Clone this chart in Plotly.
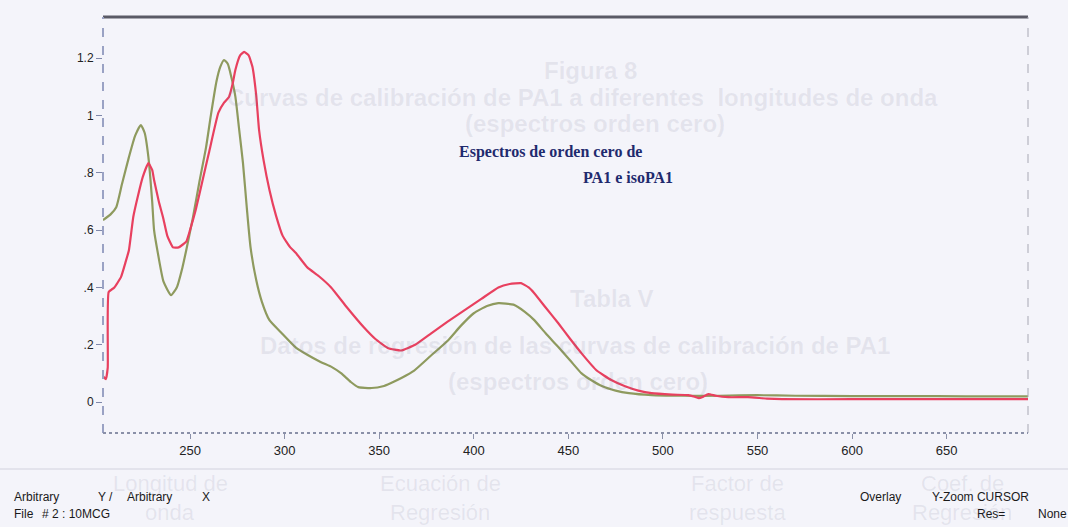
import plotly.graph_objects as go

# Zero-order absorption spectra (wavelength in nm, absorbance in arbitrary units)
wl_pa1 = [204, 205.5, 206.5, 207, 210, 213.5, 216, 217.7, 220, 222.5, 225, 228, 230, 231,
          233.5, 235.7, 238, 241, 244, 248, 250, 253, 256.5, 260, 265, 268, 270.6, 272.5,
          274, 276.5, 278.6, 281, 283, 285, 286.5, 289, 292, 295.5, 299, 303, 306, 312,
          318, 324.6, 333, 342, 348, 354.8, 361.6, 369, 377.5, 386, 395, 404, 413, 419,
          425, 429, 432, 438, 444.7, 451, 457, 465, 472.7, 480, 487, 494, 505, 513.5,
          517, 519, 521, 524, 528, 534.6, 545, 555, 563, 600, 650, 693]
abs_pa1 = [0.09, 0.08, 0.12, 0.384, 0.40, 0.436, 0.49, 0.53, 0.646, 0.72, 0.785, 0.834, 0.81,
           0.775, 0.70, 0.646, 0.58, 0.54, 0.54, 0.56, 0.60, 0.67, 0.77, 0.87, 1.01, 1.045,
           1.065, 1.11, 1.16, 1.21, 1.222, 1.21, 1.17, 1.07, 0.95, 0.84, 0.74, 0.65, 0.58,
           0.54, 0.52, 0.47, 0.44, 0.40, 0.33, 0.26, 0.22, 0.188, 0.18, 0.20, 0.24, 0.28,
           0.32, 0.36, 0.40, 0.412, 0.415, 0.40, 0.38, 0.33, 0.275, 0.22, 0.17, 0.11, 0.077,
           0.055, 0.04, 0.031, 0.026, 0.024, 0.018, 0.014, 0.018, 0.028, 0.022, 0.017,
           0.017, 0.012, 0.01, 0.01, 0.01, 0.01]

wl_iso = [204, 208, 211, 214, 217.7, 221, 224, 226, 228, 230, 231, 233, 236, 240, 243, 246,
          248, 251.6, 255, 258.5, 261, 264, 266, 268, 270, 272, 274, 276, 278, 280, 282,
          285, 288, 292, 298, 306, 312, 319, 325, 330, 335, 339, 346, 352, 356, 362, 368.5,
          377, 386.5, 393, 400, 407, 413, 421, 427, 432, 438, 444.7, 451, 457, 462, 468,
          475, 482, 494, 510, 530, 550, 570, 600, 630, 660, 693]
abs_iso = [0.635, 0.655, 0.68, 0.76, 0.855, 0.93, 0.967, 0.94, 0.855, 0.70, 0.60, 0.52, 0.42,
           0.373, 0.40, 0.47, 0.53, 0.646, 0.77, 0.89, 1.00, 1.12, 1.17, 1.194, 1.18, 1.13,
           1.065, 0.95, 0.834, 0.68, 0.54, 0.426, 0.35, 0.286, 0.244, 0.19, 0.165, 0.14,
           0.122, 0.10, 0.07, 0.052, 0.049, 0.055, 0.066, 0.085, 0.11, 0.16, 0.216, 0.265,
           0.31, 0.335, 0.345, 0.34, 0.315, 0.286, 0.24, 0.192, 0.145, 0.10, 0.077, 0.055,
           0.04, 0.031, 0.024, 0.022, 0.022, 0.024, 0.022, 0.021, 0.021, 0.02, 0.02]

x_ticks = [250, 300, 350, 400, 450, 500, 550, 600, 650]
y_ticks = [0, 0.2, 0.4, 0.6, 0.8, 1.0, 1.2]
y_tick_text = ["0", ".2", ".4", ".6", ".8", "1", "1.2"]

W, H = 1068, 527
L, R, T, B = 103, 40, 17, 94
PW, PH = W - L - R, H - T - B


def px(x):
    return (x - L) / PW


def py(y):
    return (H - B - y) / PH


PAPER = "#f4f4fa"
fig = go.Figure()

fig.add_trace(go.Scatter(x=wl_iso, y=abs_iso, mode="lines",
                         line=dict(color="#8e9a5e", width=2.2, shape="spline", smoothing=0.5),
                         name="isoPA1", showlegend=False))
fig.add_trace(go.Scatter(x=wl_pa1, y=abs_pa1, mode="lines",
                         line=dict(color="#e8405f", width=2.2, shape="spline", smoothing=0.4),
                         name="PA1", showlegend=False))

axis_font = dict(family="Liberation Sans Narrow, Arial Narrow, Liberation Sans, Arial",
                 size=13, color="#222222")

fig.update_layout(
    width=W, height=H,
    margin=dict(l=L, r=R, t=T, b=B),
    paper_bgcolor=PAPER, plot_bgcolor=PAPER,
    xaxis=dict(range=[204, 693], tickvals=x_ticks, ticks="outside", ticklen=5,
               tickcolor="#8a90a8", showgrid=False, zeroline=False, showline=False,
               tickfont=axis_font),
    yaxis=dict(range=[-0.108, 1.344], tickvals=y_ticks, ticktext=y_tick_text,
               ticks="outside", ticklen=6, tickcolor="#7f88aa", showgrid=False,
               zeroline=False, showline=False, tickfont=dict(axis_font, size=12)),
)

# Frame: heavy top rule, dashed left/right edges, dotted baseline
fig.add_shape(type="line", xref="paper", yref="paper", x0=0, x1=1, y0=1, y1=1,
              line=dict(color="#5a5a66", width=3))
fig.add_shape(type="line", xref="paper", yref="paper", x0=0, x1=0, y0=0, y1=1,
              line=dict(color="#9aa2c4", width=2, dash="dash"))
fig.add_shape(type="line", xref="paper", yref="paper", x0=1, x1=1, y0=0, y1=1,
              line=dict(color="#a8a8b4", width=1, dash="dash"))
fig.add_shape(type="line", xref="paper", yref="paper", x0=0, x1=1, y0=0, y1=0,
              line=dict(color="#8a90a8", width=2, dash="dot"))

# Faint text showing through the page
ghost = "rgba(110,110,140,0.12)"
ghost_font = dict(family="Liberation Sans, Arial", size=24, color=ghost)
ghost_lines = [
    ("<b>Figura 8</b>", 590, 70),
    ("<b>Curvas de calibración de PA1 a diferentes  longitudes de onda</b>", 582, 97),
    ("<b>(espectros orden cero)</b>", 595, 124),
    ("<b>Tabla V</b>", 612, 298),
    ("<b>Datos de regresión de las curvas de calibración de PA1</b>", 575, 345),
    ("<b>(espectros orden cero)</b>", 578, 381),
]
for txt, x, y in ghost_lines:
    fig.add_annotation(text=txt, x=px(x), y=py(y), xref="paper", yref="paper",
                       showarrow=False, font=ghost_font, xanchor="center", yanchor="middle")

table_heads = [("Longitud de", "onda", 170), ("Ecuación de", "Regresión", 440),
               ("Factor de", "respuesta", 737), ("Coef. de", "Regresión", 962)]
for top, bottom, x in table_heads:
    for txt, y in ((top, 484), (bottom, 512)):
        fig.add_annotation(text=txt, x=px(x), y=py(y), xref="paper", yref="paper",
                           showarrow=False, xanchor="center", yanchor="middle",
                           font=dict(family="Liberation Sans Narrow, Liberation Sans, Arial",
                                     size=22, color=ghost))
fig.add_shape(type="line", xref="paper", yref="paper", x0=px(0), x1=px(W),
              y0=py(469), y1=py(469), line=dict(color="rgba(110,110,140,0.12)", width=2))

# Caption inside the plot
cap_font = dict(family="Liberation Serif, Times New Roman", size=16, color="#1f2a6e")
fig.add_annotation(text="<b>Espectros de orden cero de</b>", x=px(550), y=py(152),
                   xref="paper", yref="paper", showarrow=False, font=cap_font,
                   xanchor="center", yanchor="middle")
fig.add_annotation(text="<b>PA1 e isoPA1</b>", x=px(628), y=py(178),
                   xref="paper", yref="paper", showarrow=False, font=cap_font,
                   xanchor="center", yanchor="middle")

# Instrument status lines under the chart
foot_font = dict(family="Liberation Sans Narrow, Arial Narrow, Liberation Sans, Arial",
                 size=12, color="#1a1a1a")
footer = [
    ("Arbitrary", 12, 497), ("Y /", 96, 497), ("Arbitrary", 125, 497), ("X", 200, 497),
    ("File", 12, 514), ("# 2 : 10MCG", 40, 514),
    ("Overlay", 858, 497), ("Y-Zoom CURSOR", 930, 497),
    ("Res=", 975, 514), ("None", 1036, 514),
]
for txt, x, y in footer:
    fig.add_annotation(text=txt, x=px(x), y=py(y), xref="paper", yref="paper",
                       showarrow=False, font=foot_font, xanchor="left", yanchor="middle")

fig.write_html("out.html")
